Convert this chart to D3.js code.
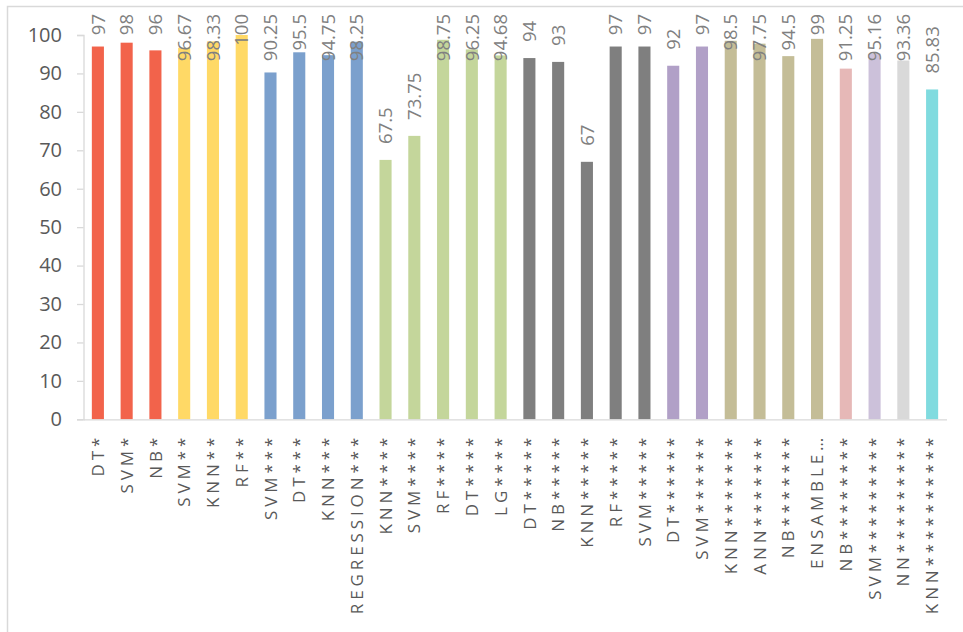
<!DOCTYPE html>
<html>
<head>
<meta charset="utf-8">
<script src="https://cdn.jsdelivr.net/npm/d3@7"></script>
<style>
  html, body { margin: 0; padding: 0; background: #fff; }
  svg { display: block; }
</style>
</head>
<body>
<svg id="chart" width="963" height="632"></svg>
<script>
// ---- data ----
const categories = [
  "DT*", "SVM*", "NB*",
  "SVM**", "KNN**", "RF**",
  "SVM***", "DT***", "KNN***", "REGRESSION***",
  "KNN****", "SVM****", "RF****", "DT****", "LG****",
  "DT*****", "NB*****", "KNN*****", "RF*****", "SVM*****",
  "DT******", "SVM******",
  "KNN*******", "ANN*******", "NB*******", "ENSAMBLE…",
  "NB********", "SVM*********", "NN*********", "KNN**********"
];
const values = [
  97, 98, 96,
  96.67, 98.33, 100,
  90.25, 95.5, 94.75, 98.25,
  67.5, 73.75, 98.75, 96.25, 94.68,
  94, 93, 67, 97, 97,
  92, 97,
  98.5, 97.75, 94.5, 99,
  91.25, 95.16, 93.36, 85.83
];
// group (study) index of each bar
const groups = [
  0, 0, 0,
  1, 1, 1,
  2, 2, 2, 2,
  3, 3, 3, 3, 3,
  4, 4, 4, 4, 4,
  5, 5,
  6, 6, 6, 6,
  7, 8, 9, 10
];
const groupColors = [
  "#F2634B", "#FFD966", "#7BA0CD", "#C4D69B", "#7F7F7F",
  "#B1A0C7", "#C4BD97", "#E6B8B7", "#CCC1DA", "#D9D9D9", "#80DBDF"
];
const yTicks = [0, 10, 20, 30, 40, 50, 60, 70, 80, 90, 100];

// ---- layout ----
const svg = d3.select("#chart");
const W = 963, H = 632;
const plot = { left: 83.5, right: 946.5, top: 35, bottom: 419.3 };

// frame
svg.append("rect")
  .attr("x", 7.5).attr("y", 6.5)
  .attr("width", W + 20).attr("height", H + 20)
  .attr("fill", "none").attr("stroke", "#D9D9D9").attr("stroke-width", 1.5);

const x = d3.scaleBand()
  .domain(categories)
  .range([plot.left, plot.right])
  .paddingInner(0.58)
  .paddingOuter(0.29);

const y = d3.scaleLinear()
  .domain([0, 100])
  .range([plot.bottom, plot.top]);

// y axis
const yAxis = svg.append("g")
  .attr("transform", `translate(${plot.left},0)`)
  .call(d3.axisLeft(y).tickValues(yTicks).tickSize(6.5).tickPadding(15));
yAxis.select(".domain").attr("stroke", "#D9D9D9").attr("stroke-width", 1.3);
yAxis.selectAll(".tick line").attr("stroke", "#D9D9D9").attr("stroke-width", 1.3);
yAxis.selectAll(".tick text")
  .attr("fill", "#595959")
  .style("font-family", "'Open Sans', sans-serif")
  .style("font-size", "20px");

// bars
svg.append("g").selectAll("rect")
  .data(categories)
  .join("rect")
  .attr("x", d => x(d))
  .attr("width", x.bandwidth())
  .attr("y", (d, i) => y(values[i]))
  .attr("height", (d, i) => y(0) - y(values[i]))
  .attr("fill", (d, i) => groupColors[groups[i]]);

// x axis baseline
const xAxis = svg.append("g")
  .attr("transform", `translate(0,${plot.bottom})`)
  .call(d3.axisBottom(x).tickSize(0).tickPadding(0));
xAxis.select(".domain").attr("stroke", "#D9D9D9").attr("stroke-width", 1.3);
xAxis.selectAll(".tick text")
  .attr("transform", "rotate(-90)")
  .attr("text-anchor", "end")
  .attr("x", -14.5)
  .attr("y", 0)
  .attr("dy", "0.36em")
  .attr("fill", "#595959")
  .style("font-family", "'Open Sans', sans-serif")
  .style("font-size", "17px")
  .style("letter-spacing", "3.9px");

// value labels
const labels = svg.append("g").selectAll("text")
  .data(categories)
  .join("text")
  .text((d, i) => String(values[i]))
  .attr("text-anchor", "start")
  .attr("dy", "0.36em")
  .attr("fill", "#808080")
  .style("font-family", "'Open Sans', sans-serif")
  .style("font-size", "18.5px");

labels.each(function (d, i) {
  const len = this.getComputedTextLength();
  const cx = x(d) + x.bandwidth() / 2;
  const cy = Math.max(y(values[i]) - 16, 14 + len);
  d3.select(this).attr("transform", `translate(${cx},${cy}) rotate(-90)`);
});
</script>
</body>
</html>
